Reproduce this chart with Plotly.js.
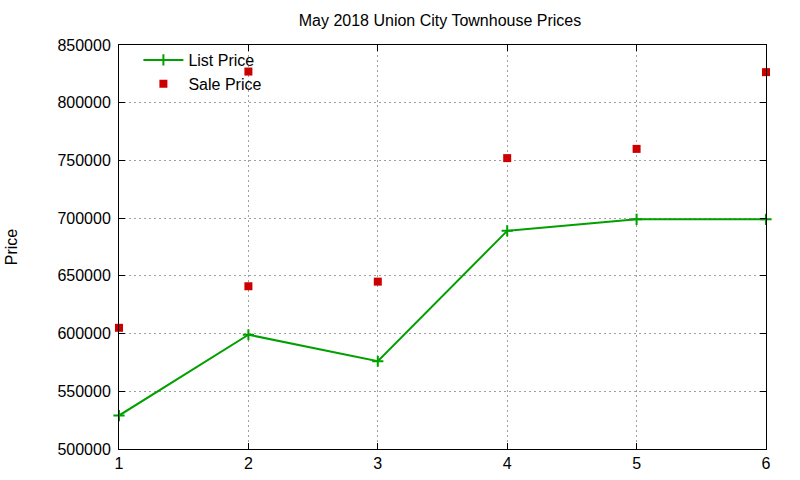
<!DOCTYPE html>
<html>
<head>
<meta charset="utf-8">
<script src="https://cdn.plot.ly/plotly-3.0.1.min.js"></script>
<style>
  html, body { margin: 0; padding: 0; background: #fff; }
  #chart { width: 800px; height: 480px; }
</style>
</head>
<body>
<div id="chart"></div>
<script>
// list price per sale index
var listX = [1, 2, 3, 4, 5, 6];
var listPrice = [529000, 599000, 576000, 689000, 699000, 699000];

// sale prices (two sales at index 2)
var saleX = [1, 2, 2, 3, 4, 5, 6];
var salePrice = [605000, 641000, 827000, 645000, 752000, 760000, 826500];

var yTicks = [500000, 550000, 600000, 650000, 700000, 750000, 800000, 850000];
var xTicks = [1, 2, 3, 4, 5, 6];

var cb_chart = function () {
  var traceList = {
    type: "scatter",
    x: listX,
    y: listPrice,
    mode: "lines+markers",
    name: "List Price",
    line: { color: "#00a000", width: 2 },
    marker: { symbol: "cross-thin", size: 8, line: { color: "#00a000", width: 2 } },
    cliponaxis: false,
  };

  var traceSale = {
    type: "scatter",
    x: saleX,
    y: salePrice,
    mode: "markers",
    name: "Sale Price",
    marker: { symbol: "square", size: 8, color: "#cc0000" },
    cliponaxis: false,
  };

  var axisStyle = {
    showline: true,
    linecolor: "#000",
    linewidth: 1,
    mirror: "ticks",
    ticks: "inside",
    ticklen: 6,
    tickcolor: "#000",
    showgrid: true,
    gridcolor: "#a0a0a0",
    griddash: "2px,3px",
    gridwidth: 1,
    zeroline: false,
    tickfont: { family: "Liberation Sans, Arial, sans-serif", size: 16, color: "#000" },
  };

  var layout = {
    width: 800,
    height: 480,
    paper_bgcolor: "#fff",
    plot_bgcolor: "#fff",
    margin: { l: 119, r: 34, t: 45, b: 31, pad: 0 },
    font: { family: "Liberation Sans, Arial, sans-serif", color: "#000" },
    title: {
      text: "May 2018 Union City Townhouse Prices",
      font: { size: 16, color: "#000" },
      x: 0.55,
      xanchor: "center",
      y: 0.958,
      yanchor: "middle",
    },
    showlegend: true,
    legend: {
      x: 0.03,
      y: 1.005,
      xanchor: "left",
      yanchor: "top",
      bgcolor: "rgba(0,0,0,0)",
      font: { size: 16, color: "#000" },
      tracegroupgap: 0,
      itemwidth: 40,
    },
    xaxis: Object.assign({}, axisStyle, {
      range: [1, 6],
      tickvals: xTicks,
      ticktext: xTicks.map(String),
    }),
    yaxis: Object.assign({}, axisStyle, {
      range: [500000, 850000],
      tickvals: yTicks,
      ticktext: yTicks.map(String),
      ticklabelstandoff: 4,
      title: { text: "Price", font: { size: 16, color: "#000" }, standoff: 35 },
    }),
  };

  var config = { displayModeBar: false, staticPlot: true };

  Plotly.newPlot("chart", [traceList, traceSale], layout, config);
};

cb_chart();
</script>
</body>
</html>
